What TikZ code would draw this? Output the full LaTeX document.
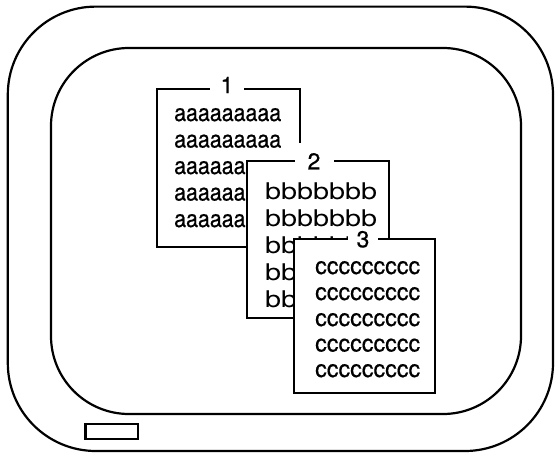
\documentclass[tikz,border=0pt]{standalone}
\usepackage{fontspec}
\setmainfont{TeX Gyre Heros}[FakeBold=0.6]
\newfontfamily\plainheros{TeX Gyre Heros}
\begin{document}
\begin{tikzpicture}[x=1pt,y=-1pt,
  frame/.style={line width=2.2pt, rounded corners=#1},
  win/.style={draw, line width=2.2pt, fill=white, inner sep=0pt},
  lbl/.style={fill=white, inner sep=0pt, font=\fontsize{23}{26}\selectfont},
  txt/.style={anchor=base west, inner sep=0pt, font=\fontsize{24}{26}\selectfont},
  txtb/.style={anchor=base west, inner sep=0pt, font=\plainheros\fontsize{23}{26}\selectfont}]
\useasboundingbox (0,0) rectangle (555,456);
% monitor
\draw[frame=88pt] (7.8,6.6) rectangle (553,451);
\draw[frame=78pt] (51,48) rectangle (521,414);
\draw[line width=2.2pt] (85.5,424) rectangle (138,439);
% window 1
\node[win, minimum width=143pt, minimum height=158pt] (w1) at (228.5,168) {};
\node[lbl, minimum width=34pt, minimum height=17pt] (l1) at (227,85) {1};
\foreach \i/\y in {1/121,2/147.5,3/174,4/200.5,5/227}
  \node[txt] (a\i) at (174,\y) {\resizebox{107pt}{\height}{aaaaaaaaa}};
% window 2
\node[win, minimum width=142pt, minimum height=157pt] (w2) at (318,239.5) {};
\node[lbl, minimum width=39pt, minimum height=36pt] (l2) at (314,161.3) {2};
\foreach \i/\y in {1/199,2/226,3/253,4/280,5/307}
  \node[txtb] (b\i) at (265,\y) {\resizebox{112pt}{\height}{bbbbbbb}};
% window 3
\node[win, minimum width=141pt, minimum height=154pt] (w3) at (364.5,316) {};
\node[lbl, minimum width=30pt, minimum height=17pt] (l3) at (363,239.3) {3};
\foreach \i/\y in {1/274,2/300,3/326,4/351.5,5/377}
  \node[txt] (c\i) at (315,\y) {\resizebox{105pt}{\height}{ccccccccc}};
\end{tikzpicture}
\end{document}
